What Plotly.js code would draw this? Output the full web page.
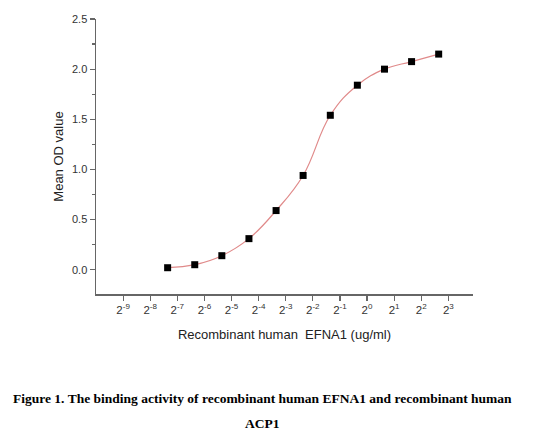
<!DOCTYPE html>
<html>
<head>
<meta charset="utf-8">
<script src="https://cdn.plot.ly/plotly-3.0.1.min.js"></script>
<style>
  html, body { margin: 0; padding: 0; background: #fff; }
  #chart { width: 545px; height: 439px; }
</style>
</head>
<body>
<div id="chart"></div>
<script>
// concentration (ug/ml), two-fold dilutions
const conc = [0.0061, 0.0122, 0.0244, 0.0488, 0.0977, 0.195, 0.391, 0.781, 1.5625, 3.125, 6.25];
const meanOD = [0.02, 0.05, 0.14, 0.31, 0.59, 0.94, 1.54, 1.84, 2.00, 2.075, 2.15];

const tickExp = [-9, -8, -7, -6, -5, -4, -3, -2, -1, 0, 1, 2, 3];
const tickVals = tickExp.map(e => Math.pow(2, e));
const tickText = tickExp.map(e => '2<sup>' + e + '</sup>');

const axisColor = '#666';
const LOG2 = Math.log10(2);

Plotly.newPlot('chart', [
  {
    // fitted curve
    x: conc, y: meanOD,
    type: 'scatter', mode: 'lines',
    line: { color: '#e08a8a', width: 1.2, shape: 'spline', smoothing: 1.2 },
    hoverinfo: 'skip',
  },
  {
    x: conc, y: meanOD,
    type: 'scatter', mode: 'markers',
    marker: { symbol: 'square', size: 7, color: '#000' },
  },
], {
  width: 545, height: 439,
  paper_bgcolor: '#fff',
  plot_bgcolor: '#fff',
  margin: { t: 19, r: 72, b: 145, l: 96 },
  showlegend: false,
  font: { family: 'Liberation Sans, Arial, sans-serif', color: '#333' },
  xaxis: {
    type: 'log',
    range: [-10 * LOG2, 3.91 * LOG2],
    tickmode: 'array',
    tickvals: tickVals,
    ticktext: tickText,
    ticks: 'outside', ticklen: 5, tickwidth: 1.2, tickcolor: axisColor,
    showline: true, linecolor: axisColor, linewidth: 1.5,
    showgrid: false, zeroline: false,
    tickfont: { size: 11.5, color: '#333' },
    title: { text: 'Recombinant human&nbsp; EFNA1 (ug/ml)', font: { size: 13, color: '#222' }, standoff: 14 },
  },
  yaxis: {
    range: [-0.242, 2.5],
    tick0: 0, dtick: 0.5,
    tickformat: '.1f',
    ticks: 'outside', ticklen: 5, tickwidth: 1.2, tickcolor: axisColor,
    minor: { dtick: 0.25, ticks: 'outside', ticklen: 3, tickcolor: axisColor, showgrid: false },
    showline: true, linecolor: axisColor, linewidth: 1.5,
    showgrid: false, zeroline: false,
    tickfont: { size: 11, color: '#333' },
    title: { text: 'Mean OD value', font: { size: 13, color: '#222' }, standoff: 5 },
  },
  annotations: [
    {
      text: '<b>Figure 1. The binding activity of recombinant human EFNA1 and recombinant human</b>',
      xref: 'paper', yref: 'paper', x: 0.4416, y: (294 - 398) / 275,
      xanchor: 'center', yanchor: 'middle', showarrow: false,
      font: { family: 'Liberation Serif, Times New Roman, serif', size: 13.5, color: '#000' },
    },
    {
      text: '<b>ACP1</b>',
      xref: 'paper', yref: 'paper', x: 0.4416, y: (294 - 423) / 275,
      xanchor: 'center', yanchor: 'middle', showarrow: false,
      font: { family: 'Liberation Serif, Times New Roman, serif', size: 13.5, color: '#000' },
    },
  ],
}, { displayModeBar: false, staticPlot: true });
</script>
</body>
</html>
